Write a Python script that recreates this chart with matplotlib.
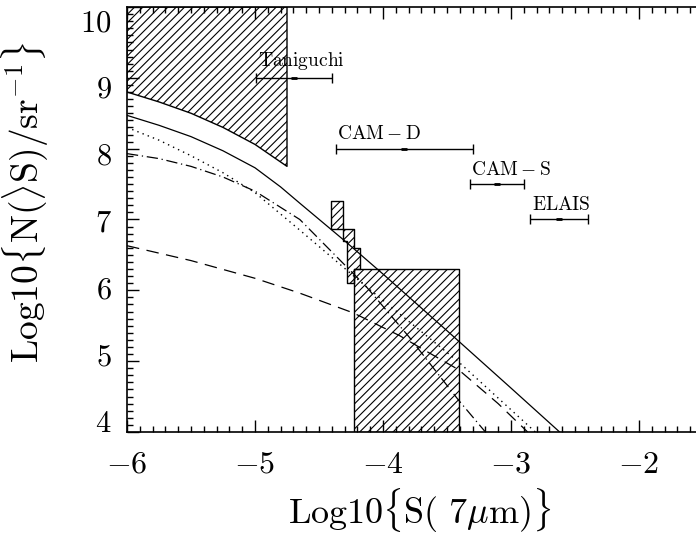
"""Integral 7 micron source counts: model components against survey limits."""

import matplotlib

matplotlib.use("Agg")
import matplotlib.pyplot as plt  # noqa: E402
from matplotlib.transforms import ScaledTranslation  # noqa: E402
from matplotlib.ticker import FuncFormatter, MultipleLocator  # noqa: E402

plt.rcParams["mathtext.fontset"] = "cm"
plt.rcParams["font.family"] = "serif"
plt.rcParams["hatch.linewidth"] = 0.8

# model curves, log10 S(7um) vs log10 N(>S)
total_x = [-6.0, -5.75, -5.5, -5.25, -5.0, -4.8, -4.65, -4.3, -4.0, -3.5, -3.0, -2.62]
total_y = [8.47, 8.33, 8.17, 7.97, 7.73, 7.46, 7.23, 6.70, 6.23, 5.43, 4.62, 4.00]

dotted_x = [-6.0, -5.75, -5.5, -5.25, -5.0, -4.65, -4.13, -3.41, -2.81]
dotted_y = [8.30, 8.12, 7.90, 7.66, 7.38, 6.85, 6.05, 4.99, 4.00]

dashdot_x = [-6.0, -5.75, -5.5, -5.25, -5.0, -4.65, -4.13, -3.8, -3.41, -3.2]
dashdot_y = [7.93, 7.86, 7.75, 7.60, 7.40, 7.00, 6.05, 5.35, 4.45, 4.00]

dashed_x = [-6.0, -5.5, -5.0, -4.65, -4.23, -3.87, -3.7, -3.41, -3.1, -2.87]
dashed_y = [6.63, 6.42, 6.17, 5.96, 5.68, 5.36, 5.18, 4.88, 4.40, 4.00]

# Taniguchi fluctuation constraint (lower bound of excluded region)
tani_x = [-6.0, -5.75, -5.5, -5.25, -5.0, -4.75]
tani_lo = [8.80, 8.66, 8.50, 8.30, 8.06, 7.75]
tani_top = 10.0

# stepped counts from the deep field
step_x = [-4.41, -4.31, -4.285, -4.23, -4.18]
step_top = [7.26, 6.86, 6.86, 6.60, 6.60]
step_bot = [6.86, 6.69, 6.10, 6.30, 6.30]

# allowed box from the background limit
box_x = [-4.23, -3.41]
box_lo = 4.0
box_hi = 6.30

# survey flux ranges
surveys = [r"$\mathrm{Taniguchi}$", r"$\mathrm{CAM-D}$", r"$\mathrm{CAM-S}$", r"$\mathrm{ELAIS}$"]
survey_lo = [-4.99, -4.37, -3.32, -2.85]
survey_hi = [-4.40, -3.30, -2.90, -2.40]
survey_y = [9.0, 8.0, 7.5, 7.0]

fig = plt.figure(figsize=(6.96, 5.35), dpi=100)
ax = fig.add_axes([127 / 696, 103 / 535, 582.4 / 696, 425 / 535])

ax.plot(total_x, total_y, color="k", lw=0.9)
ax.plot(dotted_x, dotted_y, color="k", lw=1.0, dashes=(1, 3))
ax.plot(dashdot_x, dashdot_y, color="k", lw=0.9, dashes=(9, 3, 1, 3))
ax.plot(dashed_x, dashed_y, color="k", lw=0.9, dashes=(10, 6))

hatch_kw = dict(facecolor="none", edgecolor="k", hatch="////", lw=1.0)
ax.fill_between(tani_x, tani_lo, tani_top, **hatch_kw)
ax.fill_between(box_x, box_lo, box_hi, **hatch_kw)
ax.fill_between(step_x, step_bot, step_top, step="post", **hatch_kw)

for name, lo, hi, y in zip(surveys, survey_lo, survey_hi, survey_y):
    mid = (lo + hi) / 2
    ax.errorbar(mid, y, xerr=[[mid - lo], [hi - mid]], fmt="none", ecolor="k",
                elinewidth=1.0, capsize=3.5, capthick=1.0)
    ax.plot(mid, y, marker="_", ms=5, mew=2.0, color="k")
    ax.annotate(name, (lo, y), xytext=(1, 4), textcoords="offset points",
                ha="left", va="bottom", fontsize=14)

ax.set_xlim(-6, -1.45)
ax.set_ylim(4, 10)
ax.xaxis.set_major_locator(MultipleLocator(1))
ax.xaxis.set_minor_locator(MultipleLocator(0.1))
ax.yaxis.set_major_locator(MultipleLocator(1))
ax.yaxis.set_minor_locator(MultipleLocator(0.1))
ax.xaxis.set_major_formatter(FuncFormatter(lambda v, p: rf"${v:.0f}$"))
ax.yaxis.set_major_formatter(FuncFormatter(lambda v, p: rf"${v:.0f}$"))
ax.tick_params(which="both", direction="in", top=True, right=True, width=1.0)
ax.tick_params(axis="x", labelsize=23, pad=12)
ax.tick_params(axis="y", labelsize=22, pad=11)
ax.tick_params(which="major", length=8.5)
ax.tick_params(which="minor", length=4.5)
for s in ax.spines.values():
    s.set_linewidth(1.2)

# y labels sit pulled in toward the middle of the axis
ylocs = ax.yaxis.get_majorticklocs()
for loc, tick in zip(ylocs, ax.yaxis.get_major_ticks(len(ylocs))):
    shift = -(loc - 7) * 4 / 100
    tick.label1.set_transform(tick.label1.get_transform()
                              + ScaledTranslation(0, shift, fig.dpi_scale_trans))

ax.set_xlabel(r"$\mathrm{Log10}\{\mathrm{S}(\ 7\mu\mathrm{m})\}$", fontsize=26)
ax.xaxis.set_label_coords(0.503, -0.13)
ax.set_ylabel(r"$\mathrm{Log10}\{\mathrm{N}(\rangle\mathrm{S})/\mathrm{sr}^{-1}\}$", fontsize=27)
ax.yaxis.set_label_coords(-0.132, 0.54)

fig.savefig("out.png", dpi=100)
